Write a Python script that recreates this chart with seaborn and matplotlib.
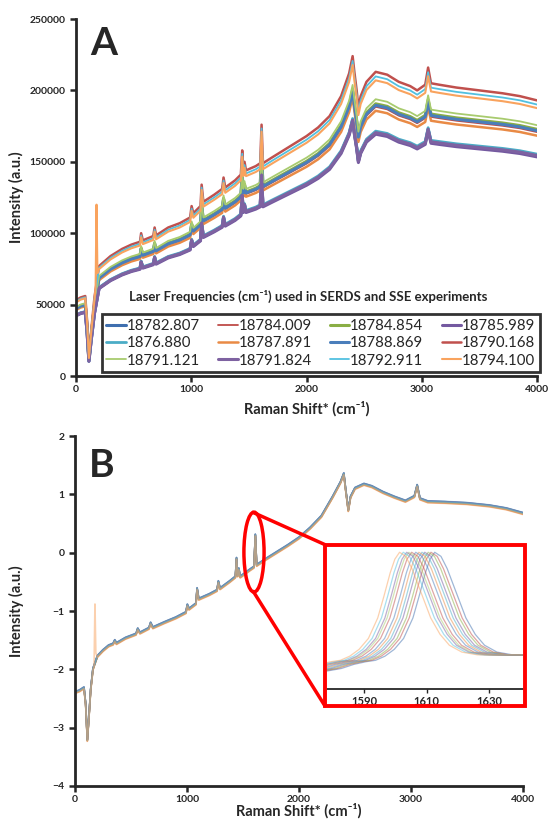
import numpy as np
import pandas as pd
import matplotlib
matplotlib.use('Agg')
import matplotlib.pyplot as plt
import seaborn as sns
from matplotlib.patches import Ellipse, Rectangle, ConnectionPatch

sns.set_style('ticks')
plt.rcParams['font.family'] = ['Lato', 'DejaVu Sans']

# laser frequencies (legend labels, as printed in the figure)
freqs = ['18782.807', '18784.009', '18784.854', '18785.989', '1876.880', '18787.891',
         '18788.869', '18790.168', '18791.121', '18791.824', '18792.911', '18794.100']
colors = ['#3F6FAF', '#BE4B48', '#8AAE45', '#7459A0', '#4BACC6', '#E98A45',
          '#4A7EBB', '#C0504D', '#A8CB6E', '#7E62A1', '#52C0E0', '#F9A35E']
widths = [2.2, 1.3, 2.2, 2.2, 2.0, 1.8, 2.2, 1.8, 1.3, 2.2, 1.3, 1.5]

# Panel A: raw spectrum (top curve)
shift_a = [0, 40, 80, 95, 112, 130, 160, 200, 300, 400, 480, 555, 565, 580, 670, 682, 695,
           800, 900, 990, 1003, 1018, 1080, 1090, 1105, 1200, 1268, 1280, 1295, 1380, 1430,
           1442, 1452, 1462, 1475, 1560, 1598, 1610, 1622, 1700, 1800, 1900, 2000, 2100,
           2200, 2300, 2370, 2400, 2415, 2435, 2450, 2470, 2520, 2600, 2700, 2800, 2900,
           2960, 3030, 3055, 3080, 3150, 3300, 3500, 3700, 3850, 4000]
top_a = [53000, 55000, 56000, 40000, 13000, 30000, 55000, 77000, 84000, 89000, 92000, 94000,
         100000, 95000, 98000, 104000, 98500, 104000, 107000, 111000, 119000, 114000, 119000,
         134000, 122000, 127000, 131000, 139000, 132000, 137000, 141000, 158000, 144000,
         150000, 144000, 147000, 149000, 176000, 149000, 153000, 158000, 163000, 168000,
         174000, 182000, 196000, 212000, 224000, 213000, 200000, 188000, 196000, 206000,
         213000, 211000, 206000, 203000, 200000, 204000, 216000, 205000, 204000, 202000,
         200000, 198000, 196000, 193000]
scale_a = [0.800, 0.885, 0.895, 0.795, 0.805, 0.872, 0.890, 1.000, 0.910, 0.800, 0.985, 0.972]
spike_a_x = [170, 178, 186]
spike_a_y = [62000, 120000, 72000]

# Panel B: normalised spectrum
shift_b = [0, 40, 80, 95, 110, 125, 140, 160, 200, 250, 300, 340, 355, 370, 450, 545, 560,
           580, 660, 675, 695, 800, 900, 990, 1003, 1018, 1080, 1090, 1105, 1200, 1268, 1280,
           1295, 1380, 1432, 1442, 1452, 1462, 1475, 1560, 1598, 1610, 1622, 1700, 1800,
           1900, 2000, 2100, 2200, 2300, 2370, 2400, 2415, 2440, 2460, 2500, 2580, 2650,
           2750, 2850, 2950, 3030, 3055, 3080, 3150, 3300, 3500, 3700, 3850, 4000]
norm_b = [-2.40, -2.37, -2.32, -2.60, -3.22, -2.80, -2.35, -2.00, -1.78, -1.68, -1.60, -1.57,
          -1.51, -1.56, -1.47, -1.40, -1.31, -1.38, -1.30, -1.21, -1.29, -1.20, -1.12, -1.03,
          -0.90, -0.97, -0.88, -0.62, -0.80, -0.72, -0.65, -0.50, -0.62, -0.50, -0.42, -0.10,
          -0.40, -0.28, -0.42, -0.30, -0.25, 0.30, -0.22, -0.12, 0.00, 0.12, 0.25, 0.42,
          0.62, 0.95, 1.20, 1.35, 1.10, 0.72, 0.95, 1.10, 1.17, 1.13, 1.03, 0.95, 0.88,
          0.96, 1.15, 0.92, 0.87, 0.86, 0.84, 0.80, 0.75, 0.67]
offset_b = [0.015, 0.00, 0.005, 0.015, 0.02, -0.01, 0.01, -0.005, 0.00, 0.015, 0.005, -0.015]
spike_b_x = [170, 178, 186]
spike_b_y = [-1.95, -0.88, -1.72]

# Inset: the ~1610 band, one profile per laser frequency
inset_dx = [-40, -35, -30, -26, -22, -19, -16, -13, -10, -7, -5, -3, -1.5, 0, 2, 4, 6, 8,
            10, 13, 16, 20, 25, 30, 35, 42]
inset_y = [0.11, 0.13, 0.15, 0.18, 0.20, 0.21, 0.24, 0.29, 0.37, 0.52, 0.68, 0.85, 0.95,
           1.00, 0.97, 0.88, 0.76, 0.64, 0.52, 0.40, 0.32, 0.27, 0.25, 0.25, 0.25, 0.25]
inset_centers = [1612.6, 1611.4, 1610.5, 1609.4, 1608.5, 1607.5, 1606.5, 1605.2, 1604.3,
                 1603.6, 1602.5, 1601.3]

fig = plt.figure(figsize=(5.48, 8.19), dpi=100)
ax1 = fig.add_axes([0.1387, 0.5409, 0.8413, 0.4359])
ax2 = fig.add_axes([0.1369, 0.0403, 0.8175, 0.4273])

x_a = np.array(shift_a)
y_a = np.array(top_a)
x_b = np.array(shift_b)
y_b = np.array(norm_b)

handles = []
for i, lab in enumerate(freqs):
    xa = x_a
    ya = y_a * scale_a[i]
    xb = x_b
    yb = y_b + offset_b[i]
    if lab == '18794.100':
        xa = np.concatenate([xa, spike_a_x])
        ya = np.concatenate([ya, spike_a_y])
        o = np.argsort(xa)
        xa, ya = xa[o], ya[o]
        xb = np.concatenate([xb, spike_b_x])
        yb = np.concatenate([yb, spike_b_y])
        o = np.argsort(xb)
        xb, yb = xb[o], yb[o]
    df = pd.DataFrame({'x': xa, 'y': ya})
    sns.lineplot(data=df, x='x', y='y', ax=ax1, color=colors[i], lw=widths[i],
                 sort=False, estimator=None)
    handles.append(ax1.lines[-1])
    dfb = pd.DataFrame({'x': xb, 'y': yb})
    sns.lineplot(data=dfb, x='x', y='y', ax=ax2, color=colors[i], lw=1.2, alpha=0.5,
                 sort=False, estimator=None)

for ax in (ax1, ax2):
    sns.despine(ax=ax)
    ax.spines['left'].set_linewidth(2)
    ax.spines['bottom'].set_linewidth(2)
    ax.tick_params(direction='out', length=4, width=1.8, labelsize=7.5)
    ax.tick_params(axis='x', pad=2.5)
    ax.set_xlim(0, 4000)
    ax.set_xticks([0, 1000, 2000, 3000, 4000])
    ax.set_xlabel('Raman Shift* (cm\u207b\u00b9)', fontsize=10.5, fontweight='bold')
    ax.set_ylabel('Intensity (a.u.)', fontsize=10.5, fontweight='bold')

ax1.set_ylim(0, 250000)
ax1.set_yticks(range(0, 250001, 50000))
ax2.set_ylim(-4, 2)
ax2.set_yticks(range(-4, 3))
for ax in (ax1, ax2):
    for t in ax.get_xticklabels() + ax.get_yticklabels():
        t.set_fontweight('bold')
ax1.xaxis.set_label_coords(0.5, -0.07)
ax2.xaxis.set_label_coords(0.5, -0.048)
ax1.yaxis.set_label_coords(-0.112, 0.5)
ax2.yaxis.set_label_coords(-0.115, 0.5)

ax1.text(0.03, 0.93, 'A', transform=ax1.transAxes, fontsize=28, fontweight='bold',
         va='center', ha='left')
ax2.text(0.03, 0.915, 'B', transform=ax2.transAxes, fontsize=28, fontweight='bold',
         va='center', ha='left')

order = [0, 4, 8, 1, 5, 9, 2, 6, 10, 3, 7, 11]
leg = ax1.legend([handles[k] for k in order], [freqs[k] for k in order], ncol=4,
                 loc='lower left', bbox_to_anchor=(0.056, 0.011, 0.95, 0.177),
                 mode='expand', borderaxespad=0, fontsize=10.8, handlelength=1.3,
                 handletextpad=0.05, columnspacing=0.3, labelspacing=0.22,
                 frameon=True, fancybox=False, borderpad=0.3)
leg.get_frame().set_edgecolor('black')
leg.get_frame().set_linewidth(2)
ax1.text(0.503, 0.222, 'Laser Frequencies (cm\u207b\u00b9) used in SERDS and SSE experiments',
         transform=ax1.transAxes, ha='center', va='center', fontsize=9.5, fontweight='bold')

# zoom marker in panel B
ax2.add_patch(Ellipse((1598, 0.01), 180, 1.37, fill=False, ec='#FF0000', lw=2.5, zorder=5))
rect = Rectangle((0.593, 0.138), 0.365, 0.197, transform=fig.transFigure, fill=False,
                 ec='#FF0000', lw=2.8, zorder=10)
fig.add_artist(rect)
for xy_a, xy_b in [((1590, 0.69), (0.593, 0.335)), ((1592, -0.665), (0.593, 0.138))]:
    con = ConnectionPatch(xyA=xy_a, coordsA=ax2.transData, xyB=xy_b,
                          coordsB=fig.transFigure, color='#FF0000', lw=2.5, zorder=6)
    fig.add_artist(con)

axi = fig.add_axes([0.5967, 0.1587, 0.358, 0.172])
for i, lab in enumerate(freqs):
    dfi = pd.DataFrame({'x': np.array(inset_dx) + inset_centers[i], 'y': inset_y})
    sns.lineplot(data=dfi, x='x', y='y', ax=axi, color=colors[i], lw=0.9, alpha=0.5,
                 sort=False, estimator=None)
axi.set_xlim(1578, 1641)
axi.set_ylim(0, 1.03)
axi.set_xticks([1590, 1610, 1630])
axi.set_yticks([])
axi.set_xlabel('')
axi.set_ylabel('')
for s in ['top', 'right', 'left']:
    axi.spines[s].set_visible(False)
axi.spines['bottom'].set_linewidth(1.3)
axi.tick_params(axis='x', direction='out', length=3, width=1, labelsize=8, pad=2)
for t in axi.get_xticklabels():
    t.set_fontweight('bold')

fig.savefig('out.png', dpi=100)
